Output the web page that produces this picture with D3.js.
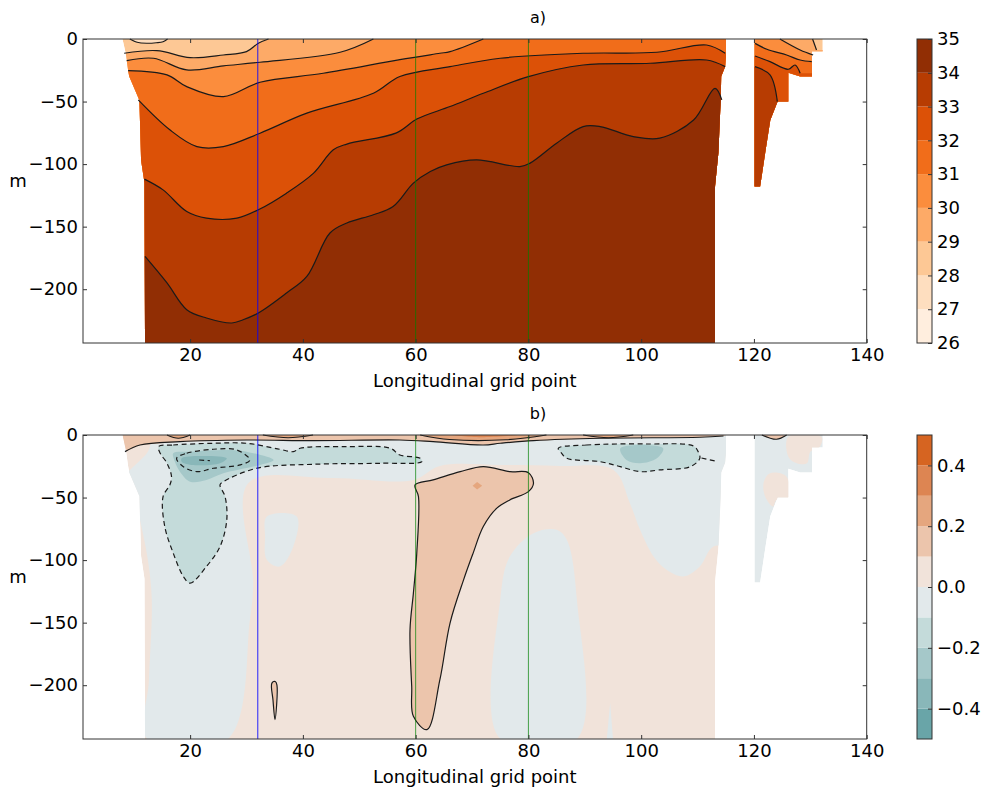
<!DOCTYPE html>
<html>
<head>
<meta charset="utf-8">
<script src="https://cdn.jsdelivr.net/npm/d3@7"></script>
<style>
  body { margin: 0; background: #fff; }
  svg { font-family: "DejaVu Sans", sans-serif; }
</style>
</head>
<body>
<svg id="chart" width="986" height="790"></svg>
<script>
// ---- axes / levels ----
const xTicks = [20, 40, 60, 80, 100, 120, 140];
const depthTicks = [0, -50, -100, -150, -200];
const salinityLevels = [26, 27, 28, 29, 30, 31, 32, 33, 34, 35];
const anomalyLevels = [-0.5, -0.4, -0.3, -0.2, -0.1, 0, 0.1, 0.2, 0.3, 0.4, 0.5];
const anomalyTicks = [-0.4, -0.2, 0, 0.2, 0.4];
const sectionX = [32, 60, 80];

// ---- land masks (grid point, depth m) ----
const mainMask = [[8.0, 0], [8.6, -12], [9.0, -25], [9.2, -30], [11.0, -49], [11.3, -97], [11.9, -115],
  [12.0, -243], [113.1, -243], [113.1, -118], [113.7, -91], [114.1, -49], [114.2, -30], [114.9, -22],
  [115.05, -14], [115.05, 0]];
const eastMask = [[120.1, 0], [120.1, -118], [121.1, -118], [122.0, -91], [122.9, -65], [124.2, -50],
  [126.1, -50], [126.1, -27], [128.2, -30], [130.3, -30], [130.3, -10], [132.2, -10], [132.2, 0]];

// ---- a) isohalines, main basin ----
const iso29 = [[8.3, -11.4], [14.1, -9.3], [20.0, -14.9], [25.9, -12.8], [30.0, -10.1], [32.1, -3.4], [33.9, 0]];
const iso30 = [[8.75, -17.3], [13.5, -15.4], [19.4, -24.7], [25.9, -21.5], [32.4, -18.6], [46.6, -10.6], [52.5, 0]];
const iso31 = [[9.0, -25.3], [15.9, -28.7], [19.4, -38.1], [25.9, -46.1], [32.4, -34.6], [43.6, -27.4],
  [57.2, -16.5], [64.3, -11.4], [66.1, -10.1], [72.0, 0]];
const iso32 = [[10.8, -48.7], [16.4, -72.6], [21.2, -86], [25.9, -86], [32.4, -75.3], [40.7, -59.3],
  [52.5, -43.4], [57.2, -30], [66.1, -22.1], [75.0, -15.4], [89.7, -11.4], [102.8, -10.6], [111.6, -4.8], [114.9, -11.4]];
const iso33 = [[11.9, -112], [15.2, -120.6], [19.4, -137.9], [22.9, -143.2], [28.3, -143.2], [32.1, -136.5],
  [37.1, -123.2], [41.9, -107.2], [45.4, -88.6], [47.8, -84], [56.6, -75], [60.2, -64], [66.1, -54],
  [72.0, -43.4], [80.0, -30.1], [89.7, -20.8], [101.6, -19.4], [111.6, -16.8], [114.9, -22.1]];
const iso34 = [[12.0, -173.8], [15.9, -195], [19.4, -216.4], [22.9, -223], [27.4, -227], [29.4, -224.4],
  [32.1, -219], [37.1, -203], [40.7, -189.8], [44.8, -155.1], [47.8, -147.1], [52.5, -140.5], [56.0, -133.9],
  [59.6, -115.2], [62.6, -105.9], [65.5, -100.6], [70.8, -96.6], [78.5, -102], [80.3, -99.2], [85.0, -83.3],
  [89.7, -70], [92.7, -70], [98.6, -78], [103.3, -79.3], [109.3, -64.7], [113.1, -39.4], [114.3, -48.7]];
const lens28 = [[9.3, 0], [10.6, -2.6], [12.3, -3.4], [14.0, -3.0], [15.2, -2.2], [16.0, 0]];

// ---- a) isohalines, east basin ----
const east29 = [[130.4, 0], [131.1, -8.8]];
const east30 = [[124.6, 0], [128.2, -8.8], [130.5, -12.8]];
const east31 = [[120.2, -3.5], [122.3, -8.2], [125.8, -12.8], [128.2, -16.8], [130.25, -18.1]];
const east32 = [[120.2, -13.6], [122.85, -18.1], [126.1, -24.2], [127.3, -20.8], [128.2, -27.4]];
const east33 = [[120.2, -22.1], [122.85, -28.7], [124.15, -50]];

// ---- b) anomaly patches ----
const greyWest = [[12.9, 0], [117.5, 0], [117.5, -88.6], [112.8, -89.1], [110.4, -105.1], [107.5, -113.1],
  [104.5, -107.8], [102.2, -97.2], [99.8, -75.8], [98.0, -54.5], [95.1, -27.9], [85.6, -24.7], [75.0, -23.9],
  [64.3, -24.7], [59.6, -35.9], [44.8, -34.3], [30.3, -38.6], [31.2, -118.4], [30.6, -147.9], [26.7, -243],
  [12.35, -243], [12.7, -195.8], [13.2, -131.7], [12.5, -99.8], [11.1, -67.9], [10.2, -51.9], [8.45, -31.9],
  [9.34, -27.9], [12.35, -14.4], [12.9, -8.8]];
const greyPatch = [[33.6, -65.2], [38.9, -65.2], [38.3, -89.2], [35.9, -105.2], [33.6, -99.8], [33.3, -81.2]];
const greyColumn = [[75.0, -243], [75.0, -131.7], [76.7, -97.2], [80.9, -78.5], [85.0, -75.8], [86.8, -83.8],
  [88.6, -131.7], [88.6, -243]];
const greySpike = [[93.9, -243], [94.5, -214], [95.0, -243]];
const tealWest = [[14.4, -9.3], [17.0, -8], [24.1, -6.6], [30.0, -6.6], [35.9, -11.4], [38.3, -13.3],
  [39.5, -10.6], [47.8, -9.3], [55.5, -10.6], [57.2, -16], [60.8, -18.6], [61.1, -21.3], [53.7, -22.6],
  [41.9, -23.4], [31.8, -26.6], [25.9, -37.3], [25.3, -39.9], [26.2, -49.3], [26.5, -67.9], [25.3, -89.2],
  [22.9, -105.1], [20.0, -118.4], [18.8, -113.1], [17.0, -94.4], [15.5, -73.1], [15.2, -49.3], [16.4, -39.9],
  [16.7, -33.3], [15.9, -22.6], [14.7, -14.6]];
const tealEast = [[85.3, -10.6], [90.3, -8], [101.0, -7.2], [109.3, -8.8], [110.1, -13.3], [110.4, -18.6],
  [108.7, -25.3], [103.3, -27.9], [99.8, -29.3], [96.3, -25.3], [92.7, -21.3], [86.8, -18.6], [85.9, -14.6]];
const tealDarkWest = [[17.0, -14.6], [20.0, -13.3], [27.1, -12], [30.0, -13.3], [34.8, -20], [32.4, -24],
  [25.9, -30.6], [22.9, -35.9], [20.0, -37.3], [18.2, -29.3], [17.3, -21.3]];
const tealDarkEast = [[96.3, -10.6], [103.9, -10.6], [102.8, -18.6], [99.8, -22.6], [97.4, -20]];
const tealCore = [[18.5, -18.6], [21.8, -16.8], [26.5, -18.6], [25.3, -22.6], [20.6, -24], [18.5, -21.3]];
const surfaceStrip = [[8.45, -13.3], [11.1, -8], [18.2, -5.3], [30.0, -4], [41.9, -4.5], [57.2, -4],
  [63.1, -5.3], [72.0, -8], [75.0, -6.6], [80.9, -4.5], [92.7, -2.6], [110.4, -1.8], [114.6, -0.8]];
const lensA = [[15.9, 0], [17.9, -2.6], [20.0, 0]];
const lensB = [[32.9, 0], [37.4, -2.2], [41.8, 0]];
const lensC = [[60.8, 0], [66.0, -3.6], [76.0, -3.8], [83.2, 0]];
const lensD = [[89.7, 0], [94.2, -2.2], [98.6, 0]];
const lensCore = [[66.5, 0], [72.0, -1.8], [78.0, 0]];
const tongue = [[59.9, -39.9], [63.1, -35.9], [67.9, -29.3], [72.0, -25.3], [76.7, -29.3], [80.0, -30.1],
  [80.9, -38.6], [80.0, -45.3], [76.7, -51.9], [74.4, -58.5], [72.0, -73.2], [70.2, -94.4], [68.5, -115.8],
  [66.1, -150.3], [64.3, -195.6], [62.0, -235.5], [59.6, -224.9], [59.3, -200.9], [59.0, -155.6],
  [59.6, -126.4], [60.2, -94.4], [60.5, -49.3]];
const tongueSpot = [[70.1, -40.5], [70.9, -37.5], [71.8, -40.5], [70.9, -43.5]];
const sliver = [[34.5, -198.3], [35.1, -197], [35.4, -200], [35.05, -227.6], [34.7, -212]];
const eastPinkLow = [[121.7, -38.6], [122.85, -30.6], [125.8, -33.3], [126.1, -50.5], [124.0, -51.9],
  [123.4, -57.2], [122.0, -49.3]];
const eastPinkTop = [[126.1, -1.4], [132.0, -1.4], [131.7, -9.3], [130.0, -13.3], [129.4, -22.6], [127.6, -22.6], [126.1, -17.3]];
const eastLens = [[121.4, 0], [124.0, -3.4], [125.8, 0]];
const dashInner = [[17.6, -18.6], [19.4, -14.6], [24.1, -11.4], [28.3, -12], [30.6, -20], [28.9, -23.9],
  [24.1, -26.6], [21.2, -29.3], [18.8, -25.3]];
const dashCore = [[21.6, -20], [23.5, -20.5]];
const dashTail = [[110.7, -18.4], [113.6, -21.3]];

// ---- styles ----
const salColor = lo => d3.interpolateOranges((lo - 26 + 0.5) / 9);
const anomPalette = ["#69a5a8", "#89b7b9", "#a5c8c9", "#c4dbda", "#e2e9eb",
  "#f1e3da", "#ecc5ac", "#e5a67e", "#dd8552", "#d66421"];
const anomColor = lo => anomPalette[Math.round((lo + 0.5) * 10)];

// ---- tables built from the arrays ----
const salRegions = [
  { mask: mainMask, base: 28, iso: [[29, iso29], [30, iso30], [31, iso31], [32, iso32], [33, iso33], [34, iso34]],
    lens: [[27, lens28]] },
  { mask: eastMask, base: 28, iso: [[29, east29], [30, east30], [31, east31], [32, east32], [33, east33]], lens: [] }
];
const anomRegions = [
  { mask: mainMask, base: 0,
    patches: [[-0.1, greyWest, 1], [-0.1, greyPatch, 1], [-0.1, greyColumn, 1], [-0.1, greySpike, 0],
      [-0.2, tealWest, 1], [-0.2, tealEast, 1], [-0.3, tealDarkWest, 1], [-0.3, tealDarkEast, 1],
      [-0.4, tealCore, 1], [0.1, surfaceStrip.concat([[115.05, 0], [8.0, 0]]), 0],
      [0.2, lensA, 1], [0.2, lensB, 1], [0.2, lensC, 1], [0.2, lensD, 1], [0.3, lensCore, 1],
      [0.1, tongue, 1], [0.2, tongueSpot, 0], [0.1, sliver, 0]] },
  { mask: eastMask, base: -0.1,
    patches: [[0, eastPinkLow, 1], [0, eastPinkTop, 1], [0.1, eastLens, 1]] }
];
const solidLines = [[surfaceStrip, false], [tongue, true], [sliver, true], [lensA, false], [lensB, false],
  [lensC, false], [lensD, false], [eastLens, false]];
const dashedLines = [[tealWest, true], [dashInner, true], [tealEast, true], [dashCore, false], [dashTail, false]];

// ---- layout ----
const svg = d3.select("#chart");
const defs = svg.append("defs");
const x = d3.scaleLinear().domain([1, 140]).range([83, 866.7]);
const panels = [{ top: 39, bottom: 343, title: "a)" }, { top: 435, bottom: 739, title: "b)" }];
panels.forEach(p => p.y = d3.scaleLinear().domain([-243, 0]).range([p.bottom, p.top]));

function gens(y) {
  const X = d => x(d[0]), Y = d => y(d[1]);
  return {
    smooth: d3.line().x(X).y(Y).curve(d3.curveCatmullRom.alpha(0.5)),
    smoothClosed: d3.line().x(X).y(Y).curve(d3.curveCatmullRomClosed.alpha(0.5)),
    poly: d3.line().x(X).y(Y).curve(d3.curveLinearClosed),
    // region on the salty side of an isoline (below / left of it)
    below(pts) {
      const [x0, x1] = x.range(), yb = y.range()[0] + 5;
      const last = pts[pts.length - 1], first = pts[0];
      return this.smooth(pts) + `L${x1 + 20},${y(last[1])}V${yb}H${x0 - 20}V${y(first[1])}Z`;
    }
  };
}

let clipId = 0;
function clipped(g, gen, mask) {
  const id = "clip" + (clipId++);
  defs.append("clipPath").attr("id", id).append("path").attr("d", gen.poly(mask));
  return g.append("g").attr("clip-path", `url(#${id})`);
}

// ---- panel a ----
(function () {
  const p = panels[0], y = p.y, gen = gens(y);
  const g = svg.append("g");
  salRegions.forEach(r => {
    const rg = clipped(g, gen, r.mask);
    rg.append("path").attr("d", gen.poly(r.mask)).attr("fill", salColor(r.base));
    r.iso.forEach(([lv, pts]) => rg.append("path").attr("d", gen.below(pts)).attr("fill", salColor(lv)));
    r.lens.forEach(([lv, pts]) => rg.append("path").attr("d", gen.smoothClosed(pts)).attr("fill", salColor(lv)));
    const lg = g.append("g").attr("fill", "none").attr("stroke", "#1a1a1a").attr("stroke-width", 1.2);
    r.iso.forEach(([, pts]) => lg.append("path").attr("d", gen.smooth(pts)));
    r.lens.forEach(([, pts]) => lg.append("path").attr("d", gen.smooth(pts)));
  });
})();

// ---- panel b ----
(function () {
  const p = panels[1], y = p.y, gen = gens(y);
  const g = svg.append("g");
  anomRegions.forEach(r => {
    const rg = clipped(g, gen, r.mask);
    rg.append("path").attr("d", gen.poly(r.mask)).attr("fill", anomColor(r.base));
    r.patches.forEach(([lv, pts, smooth]) =>
      rg.append("path").attr("d", smooth ? gen.smoothClosed(pts) : gen.poly(pts)).attr("fill", anomColor(lv)));
  });
  const lg = g.append("g").attr("fill", "none").attr("stroke", "#1a1a1a").attr("stroke-width", 1.2);
  solidLines.forEach(([pts, closed]) => lg.append("path").attr("d", closed ? gen.smoothClosed(pts) : gen.smooth(pts)));
  dashedLines.forEach(([pts, closed]) => lg.append("path")
    .attr("d", closed ? gen.smoothClosed(pts) : gen.smooth(pts))
    .attr("stroke-dasharray", "5,3.5"));
})();

// ---- section lines, axes, frames ----
panels.forEach((p, i) => {
  const y = p.y;
  const g = svg.append("g");
  g.selectAll("line.sec").data(sectionX).join("line")
    .attr("x1", d => x(d)).attr("x2", d => x(d)).attr("y1", p.top).attr("y2", p.bottom)
    .attr("stroke", (d, k) => k === 0 ? "#0000ff" : "#008000")
    .attr("stroke-opacity", (d, k) => k === 0 ? 0.85 : 0.7).attr("stroke-width", 1);

  const ax = (axis, tr) => g.append("g").attr("transform", tr).call(axis)
    .call(s => s.select(".domain").remove())
    .call(s => s.selectAll("text").attr("font-size", 18).attr("fill", "#000").attr("font-family", "DejaVu Sans"))
    .call(s => s.selectAll("line").attr("stroke", "#333"));
  ax(d3.axisBottom(x).tickValues(xTicks).tickSizeInner(-4).tickSizeOuter(0).tickPadding(5.5), `translate(0,${p.bottom})`);
  ax(d3.axisTop(x).tickValues(xTicks).tickSizeInner(-4).tickSizeOuter(0).tickFormat(""), `translate(0,${p.top})`);
  ax(d3.axisLeft(y).tickValues(depthTicks).tickSizeInner(-4).tickSizeOuter(0).tickPadding(5), `translate(${x.range()[0]},0)`);
  ax(d3.axisRight(y).tickValues(depthTicks).tickSizeInner(-4).tickSizeOuter(0).tickFormat(""), `translate(${x.range()[1]},0)`);

  g.append("rect").attr("x", x.range()[0]).attr("y", p.top)
    .attr("width", x.range()[1] - x.range()[0]).attr("height", p.bottom - p.top)
    .attr("fill", "none").attr("stroke", "#333").attr("stroke-width", 1);

  g.append("text").attr("x", 538).attr("y", p.top - 16).attr("text-anchor", "middle")
    .attr("font-size", 16).text(p.title);
  g.append("text").attr("x", (x.range()[0] + x.range()[1]) / 2).attr("y", p.bottom + 44)
    .attr("text-anchor", "middle").attr("font-size", 18).text("Longitudinal grid point");
  g.append("text").attr("x", 18).attr("y", (p.top + p.bottom) / 2 - 4)
    .attr("text-anchor", "middle").attr("font-size", 18).text("m");
});

// ---- colorbars ----
function colorbar(p, levels, color, ticks, fmt) {
  const cb = d3.scaleLinear().domain([levels[0], levels[levels.length - 1]]).range([p.bottom, p.top]);
  const g = svg.append("g");
  const bands = d3.pairs(levels);
  g.selectAll("rect.band").data(bands).join("rect")
    .attr("x", 917).attr("width", 15)
    .attr("y", d => cb(d[1])).attr("height", d => cb(d[0]) - cb(d[1]))
    .attr("fill", d => color(d[0]));
  g.append("rect").attr("x", 917).attr("y", p.top).attr("width", 15).attr("height", p.bottom - p.top)
    .attr("fill", "none").attr("stroke", "#333");
  g.append("g").attr("transform", "translate(932,0)")
    .call(d3.axisRight(cb).tickValues(ticks).tickFormat(fmt).tickSizeInner(-4).tickSizeOuter(0).tickPadding(5))
    .call(s => s.select(".domain").remove())
    .call(s => s.selectAll("text").attr("font-size", 18).attr("fill", "#000").attr("font-family", "DejaVu Sans"))
    .call(s => s.selectAll("line").attr("stroke", "#333"));
}
colorbar(panels[0], salinityLevels, salColor, salinityLevels, d3.format("d"));
colorbar(panels[1], anomalyLevels, anomColor, anomalyTicks, d3.format(".1f"));
</script>
</body>
</html>
